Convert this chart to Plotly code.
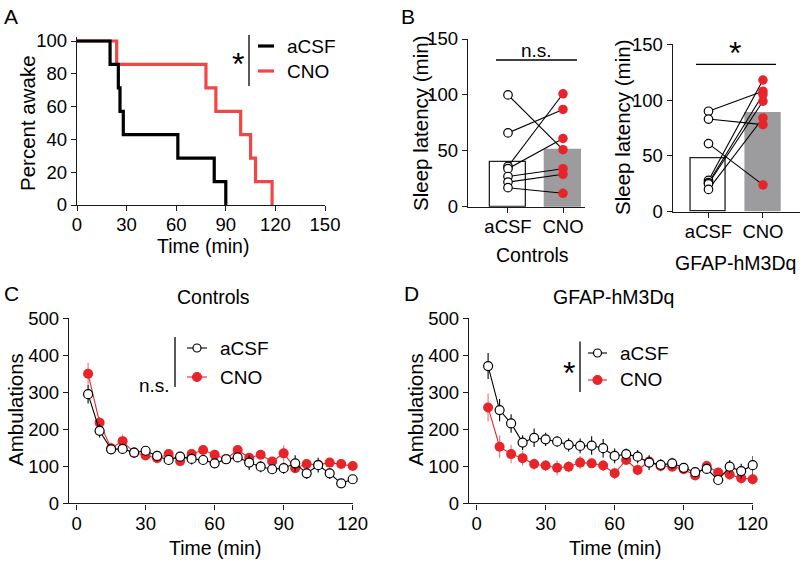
import plotly.graph_objects as go

# ---- data ----
# B: sleep latency (min), paired per animal
ctrl_acsf = [100, 66, 36, 34, 27, 22, 17]
ctrl_cno = [51, 87, 101, 61, 34, 29, 12]
gfap_acsf = [90, 83, 61, 28, 26, 25, 20]
gfap_cno = [108, 78, 24, 118, 105, 99, 84]
ctrl_bar = [40, 51]
gfap_bar = [48, 88]
conds = ["aCSF", "CNO"]

# C / D: ambulations per 5 min bin
time_min = [5, 10, 15, 20, 25, 30, 35, 40, 45, 50, 55, 60,
            65, 70, 75, 80, 85, 90, 95, 100, 105, 110, 115, 120]
c_acsf = [295, 196, 146, 147, 137, 142, 128, 117, 126, 120, 117, 108,
          119, 124, 110, 99, 92, 95, 108, 81, 103, 81, 54, 65]
c_acsf_sem = [25, 18, 12, 10, 8, 10, 8, 10, 12, 15, 12, 10,
              10, 12, 20, 15, 12, 15, 22, 15, 20, 15, 8, 12]
c_cno = [350, 218, 149, 168, 137, 129, 122, 133, 114, 133, 144, 131,
         120, 144, 123, 131, 113, 135, 95, 106, 104, 110, 106, 101]
c_cno_sem = [30, 15, 15, 18, 15, 12, 10, 10, 10, 10, 12, 10,
             10, 12, 10, 12, 10, 22, 12, 10, 10, 12, 12, 12]
d_acsf = [371, 252, 216, 164, 177, 173, 167, 158, 155, 156, 149, 128,
          133, 126, 110, 104, 108, 96, 84, 93, 63, 99, 87, 103]
d_acsf_sem = [35, 30, 25, 20, 25, 18, 15, 18, 20, 25, 25, 20,
              15, 18, 20, 15, 15, 12, 10, 12, 8, 18, 20, 25]
d_cno = [259, 153, 133, 122, 106, 102, 96, 99, 110, 108, 102, 81,
         117, 90, 113, 101, 99, 92, 75, 101, 83, 78, 68, 65]
d_cno_sem = [38, 30, 25, 20, 15, 15, 20, 15, 18, 12, 15, 15,
             12, 15, 12, 15, 12, 10, 10, 15, 10, 15, 15, 15]

W, H = 800, 563
RED = "#e8242b"
RED_A = "#ef4646"
GRAY = "#9c9c9e"
FONT = "Arial, Liberation Sans, sans-serif"


def fx(px):
    return px / W


def fy(py):
    return 1 - py / H


def km_steps(times):
    # Kaplan-Meier curve (no censoring) from sleep latencies
    t = sorted(times)
    n = len(t)
    xs, ys = [0], [100]
    for i, v in enumerate(t):
        xs.append(v)
        ys.append(100 * (n - i - 1) / n)
    return xs, ys


fig = go.Figure()

# ---- A: percent awake ----
xa, ya = km_steps(gfap_cno)
fig.add_trace(go.Scatter(x=xa, y=ya, mode="lines", line=dict(color=RED_A, width=3.2, shape="hv"),
                         xaxis="x", yaxis="y", showlegend=False))
xa, ya = km_steps(gfap_acsf)
fig.add_trace(go.Scatter(x=xa, y=ya, mode="lines", line=dict(color="black", width=3.2, shape="hv"),
                         xaxis="x", yaxis="y", showlegend=False))


# ---- B: paired plots ----
def paired(acsf, cno, bars, xa, ya):
    fig.add_trace(go.Bar(x=[0, 1], y=bars, width=0.64,
                         marker=dict(color=["white", GRAY], line=dict(color=["#222", GRAY], width=1.3)),
                         xaxis=xa, yaxis=ya, showlegend=False))
    lx, ly = [], []
    for a, c in zip(acsf, cno):
        lx += [0, 1, None]
        ly += [a, c, None]
    fig.add_trace(go.Scatter(x=lx, y=ly, mode="lines", line=dict(color="black", width=1.1),
                             xaxis=xa, yaxis=ya, showlegend=False))
    fig.add_trace(go.Scatter(x=[0] * len(acsf), y=acsf, mode="markers",
                             marker=dict(size=8.5, color="white", line=dict(color="black", width=1.2)),
                             xaxis=xa, yaxis=ya, showlegend=False, cliponaxis=False))
    fig.add_trace(go.Scatter(x=[1] * len(cno), y=cno, mode="markers",
                             marker=dict(size=9.5, color=RED),
                             xaxis=xa, yaxis=ya, showlegend=False, cliponaxis=False))


paired(ctrl_acsf, ctrl_cno, ctrl_bar, "x2", "y2")
paired(gfap_acsf, gfap_cno, gfap_bar, "x3", "y3")


# ---- C / D: time courses ----
def timecourse(acsf, acsf_sem, cno, cno_sem, xa, ya):
    fig.add_trace(go.Scatter(x=time_min, y=cno, mode="lines+markers",
                             line=dict(color=RED, width=1.1),
                             marker=dict(size=10, color=RED),
                             error_y=dict(type="data", array=cno_sem, color="#f07a7e", thickness=1.2, width=0),
                             xaxis=xa, yaxis=ya, showlegend=False, cliponaxis=False))
    fig.add_trace(go.Scatter(x=time_min, y=acsf, mode="lines+markers",
                             line=dict(color="black", width=1.1),
                             marker=dict(size=9, color="white", line=dict(color="black", width=1.2)),
                             error_y=dict(type="data", array=acsf_sem, color="black", thickness=1.1, width=0),
                             xaxis=xa, yaxis=ya, showlegend=False, cliponaxis=False))


timecourse(c_acsf, c_acsf_sem, c_cno, c_cno_sem, "x4", "y4")
timecourse(d_acsf, d_acsf_sem, d_cno, d_cno_sem, "x5", "y5")

# ---- axes ----
ax = dict(showline=True, linecolor="#1a1a1a", linewidth=1.4, ticks="outside", ticklen=5,
          tickwidth=1.4, tickcolor="#1a1a1a", showgrid=False, zeroline=False, automargin=False,
          tickfont=dict(size=18.5, color="black", family=FONT), fixedrange=True)
axx = dict(ax, ticklabelstandoff=-2)

ya_top = 41 - 2.5 * 1.64
layout_axes = dict(
    xaxis=dict(axx, domain=[fx(77), fx(325)], range=[0, 150], tickvals=[0, 30, 60, 90, 120, 150], anchor="y"),
    yaxis=dict(ax, domain=[fy(205), fy(ya_top)], range=[0, 102.5], tickvals=[0, 20, 40, 60, 80, 100], anchor="x"),
    xaxis2=dict(axx, domain=[fx(468), fx(585)], range=[-0.727, 1.4], tickvals=[0, 1], ticktext=conds, anchor="y2"),
    yaxis2=dict(ax, domain=[fy(206.7), fy(39)], range=[0, 150], tickvals=[0, 50, 100, 150], anchor="x2"),
    xaxis3=dict(axx, domain=[fx(672.7), 1.0], range=[-0.657, 1.68], tickvals=[0, 1], ticktext=conds, anchor="y3"),
    yaxis3=dict(ax, domain=[fy(211.7), fy(44.3)], range=[0, 150], tickvals=[0, 50, 100, 150], anchor="x3"),
    xaxis4=dict(axx, domain=[fx(69), fx(352.7)], range=[-3.3, 120], tickvals=[0, 30, 60, 90, 120], anchor="y4"),
    yaxis4=dict(ax, domain=[fy(503.3), fy(318.3)], range=[0, 500], tickvals=[0, 100, 200, 300, 400, 500], anchor="x4"),
    xaxis5=dict(axx, domain=[fx(469), fx(752.7)], range=[-3.3, 120], tickvals=[0, 30, 60, 90, 120], anchor="y5"),
    yaxis5=dict(ax, domain=[fy(503.3), fy(318.3)], range=[0, 500], tickvals=[0, 100, 200, 300, 400, 500], anchor="x5"),
)

# ---- text ----
ann = []


def txt(s, x, y, size=19.5, xanchor="center", yanchor="middle", angle=0):
    ann.append(dict(text=s, x=fx(x), y=fy(y), xref="paper", yref="paper", showarrow=False,
                    xanchor=xanchor, yanchor=yanchor, textangle=angle,
                    font=dict(size=size, color="black", family=FONT)))


# panel letters
txt("A", 2, 17, size=21, xanchor="left")
txt("B", 399, 17, size=21, xanchor="left")
txt("C", 2, 293, size=21, xanchor="left")
txt("D", 402, 293, size=21, xanchor="left")

# axis titles
txt("Percent awake", 28, 123, size=20.5, angle=-90)
txt("Time (min)", 203, 246)
txt("Sleep latency (min)", 420, 124, size=20.5, angle=-90)
txt("Sleep latency (min)", 622, 128, size=20.5, angle=-90)
txt("Controls", 532, 255)
txt("GFAP-hM3Dq", 735, 263)
txt("Controls", 213, 297)
txt("GFAP-hM3Dq", 613, 297)
txt("Ambulations", 15, 410, size=20.5, angle=-90)
txt("Ambulations", 415, 410, size=20.5, angle=-90)
txt("Time (min)", 215, 548)
txt("Time (min)", 615, 548)

# significance marks
txt("n.s.", 536, 51, size=19)
txt("*", 735, 53, size=32)
txt("*", 238, 64, size=32)
txt("n.s.", 172, 385, size=19, xanchor="right")
txt("*", 569, 373, size=32)

# legend texts
txt("aCSF", 285, 46, size=19, xanchor="left")
txt("CNO", 285, 71, size=19, xanchor="left")
txt("aCSF", 218, 348, size=19, xanchor="left")
txt("CNO", 218, 377, size=19, xanchor="left")
txt("aCSF", 618, 353, size=19, xanchor="left")
txt("CNO", 618, 380, size=19, xanchor="left")

shapes = []


def seg(x0, y0, x1, y1, color="black", width=1.3):
    shapes.append(dict(type="line", xref="paper", yref="paper", x0=fx(x0), y0=fy(y0), x1=fx(x1), y1=fy(y1),
                       line=dict(color=color, width=width)))


def dot(cx, cy, r, fill, edge):
    shapes.append(dict(type="circle", xref="paper", yref="paper", x0=fx(cx - r), x1=fx(cx + r),
                       y0=fy(cy + r), y1=fy(cy - r), fillcolor=fill, line=dict(color=edge, width=1.2)))


# sig bars
seg(496, 60, 577, 60)
seg(696, 64.3, 776, 64.3)
seg(249, 35, 249, 86)
seg(175, 337, 175, 387)
seg(580, 341.5, 580, 392)

# legend samples A
seg(258, 46, 274, 46, "black", 3.2)
seg(258, 71, 274, 71, RED_A, 3.2)
# legend samples C
seg(187, 348, 207, 348, "black", 1.1)
dot(197, 348, 4, "white", "black")
seg(187, 377, 207, 377, RED, 1.1)
dot(197, 377, 4.5, RED, RED)
# legend samples D
seg(588, 353, 607, 353, "black", 1.1)
dot(597.5, 353, 4, "white", "black")
seg(588, 380, 607, 380, RED, 1.1)
dot(597.5, 380, 4.5, RED, RED)

fig.update_layout(
    width=W, height=H, margin=dict(l=0, r=0, t=0, b=0, autoexpand=False),
    plot_bgcolor="white", paper_bgcolor="white",
    font=dict(family=FONT, color="black"),
    annotations=ann, shapes=shapes, bargap=0,
    **layout_axes,
)

fig.write_html("out.html", post_script="document.body.style.margin='0';",
               config={"displayModeBar": False})
